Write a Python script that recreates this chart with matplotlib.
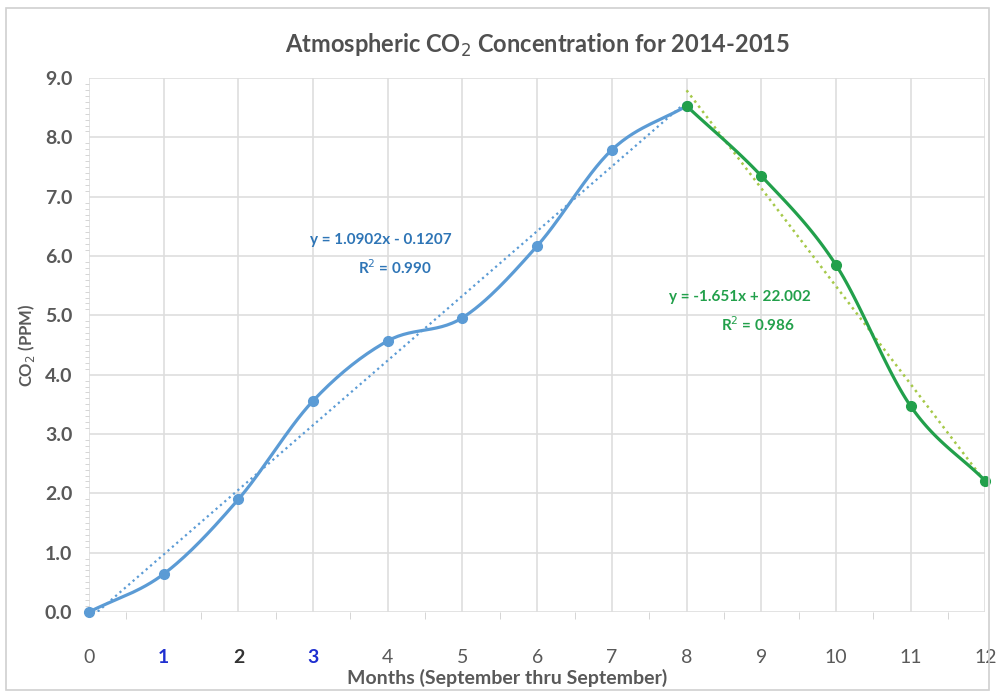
import matplotlib.pyplot as plt
import numpy as np
from matplotlib.patches import Rectangle
from matplotlib.ticker import MultipleLocator

plt.rcParams.update({
    "font.family": ["Lato", "DejaVu Sans"],
    "figure.facecolor": "white",
})

# data
months_rise = [0, 1, 2, 3, 4, 5, 6, 7, 8]
co2_rise = [0.0, 0.64, 1.90, 3.56, 4.57, 4.96, 6.17, 7.79, 8.53]
months_fall = [8, 9, 10, 11, 12]
co2_fall = [8.53, 7.35, 5.85, 3.47, 2.21]
month_ticks = list(range(13))
co2_ticks = [0, 1, 2, 3, 4, 5, 6, 7, 8, 9]

# trendlines as printed on the chart
fit_rise = (1.0902, -0.1207)
fit_fall = (-1.651, 22.002)

BLUE = "#5b9bd5"
GREEN = "#22a04b"
TREND_GREEN = "#a6c94a"
GRID = "#dedede"
TICK_GREY = "#595959"


def smooth(x, y, n=30):
    # catmull-rom style smoothing, like excel's "smoothed line"
    x = np.asarray(x, float)
    y = np.asarray(y, float)
    px = np.concatenate([[2 * x[0] - x[1]], x, [2 * x[-1] - x[-2]]])
    py = np.concatenate([[2 * y[0] - y[1]], y, [2 * y[-1] - y[-2]]])
    t = np.linspace(0, 1, n)
    xs, ys = [], []
    for i in range(1, len(px) - 2):
        for p, out in ((px, xs), (py, ys)):
            p0, p1, p2, p3 = p[i - 1], p[i], p[i + 1], p[i + 2]
            out.append(0.5 * (2 * p1 + (-p0 + p2) * t
                              + (2 * p0 - 5 * p1 + 4 * p2 - p3) * t ** 2
                              + (-p0 + 3 * p1 - 3 * p2 + p3) * t ** 3))
    return np.concatenate(xs), np.concatenate(ys)


fig = plt.figure(figsize=(9.97, 6.97), dpi=100)
ax = fig.add_axes([0.0893, 0.122, 0.899, 0.766])

fig.patches.append(Rectangle((0.006, 0.01), 0.986, 0.979, transform=fig.transFigure,
                             fill=False, edgecolor="#d0d0d0", linewidth=1.2))

# trendlines
xr = np.array([months_rise[0], months_rise[-1]])
ax.plot(xr, fit_rise[0] * xr + fit_rise[1], color=BLUE, lw=1.6, ls=(0, (1, 1.6)), zorder=2)
xf = np.array([months_fall[0], months_fall[-1]])
ax.plot(xf, fit_fall[0] * xf + fit_fall[1], color=TREND_GREEN, lw=1.8, ls=(0, (1, 1.6)), zorder=2)

# smoothed series
sx, sy = smooth(months_rise, co2_rise)
ax.plot(sx, sy, color=BLUE, lw=2.3, zorder=3)
ax.plot(months_rise, co2_rise, "o", color=BLUE, ms=7, zorder=4, clip_on=False)
sx, sy = smooth(months_fall, co2_fall)
ax.plot(sx, sy, color=GREEN, lw=2.3, zorder=3)
ax.plot(months_fall, co2_fall, "o", color=GREEN, ms=7, zorder=4, clip_on=False)

# equation labels
eq_style = dict(fontsize=11, fontweight="bold", ha="center", va="center")
ax.text(3.9, 6.27, "y = 1.0902x - 0.1207", color="#2e75b6", **eq_style)
ax.text(4.1, 5.8, "R$^2$ = 0.990", color="#2e75b6", **eq_style)
ax.text(8.72, 5.31, "y = -1.651x + 22.002", color="#22a04b", **eq_style)
ax.text(8.95, 4.84, "R$^2$ = 0.986", color="#22a04b", **eq_style)

ax.set_xlim(0, 12)
ax.set_ylim(0, 9)
ax.set_xticks(month_ticks)
ax.set_xticklabels([str(m) for m in month_ticks])
ax.xaxis.set_minor_locator(MultipleLocator(0.5))
ax.set_yticks(co2_ticks)
ax.set_yticklabels([f"{v:.1f}" for v in co2_ticks])
ax.yaxis.set_minor_locator(MultipleLocator(0.1))
ax.grid(True, which="major", color=GRID, lw=1.2)
ax.set_axisbelow(True)
for s in ax.spines.values():
    s.set_visible(False)

ax.tick_params(axis="both", which="major", length=0, labelsize=14, labelcolor=TICK_GREY)
ax.tick_params(axis="x", which="major", pad=27)
ax.tick_params(axis="y", which="major", pad=12)
ax.tick_params(axis="y", which="minor", length=3, color="#cfcfcf", direction="out")
ax.tick_params(axis="x", which="minor", length=5, color="#cfcfcf", direction="out")
for lab in ax.get_yticklabels():
    lab.set_fontweight("bold")
xlabs = ax.get_xticklabels()
for i, c in ((1, "#1f2fd0"), (2, "#333333"), (3, "#1f2fd0")):
    xlabs[i].set_color(c)
    xlabs[i].set_fontweight("bold")

ax.set_xlabel("Months (September thru September)", fontsize=14, color=TICK_GREY,
              fontweight="bold")
ax.xaxis.set_label_coords(0.467, -0.106)
ax.set_ylabel("CO$_2$ (PPM)", fontsize=12, color=TICK_GREY, fontweight="bold", labelpad=6)
ax.set_title("Atmospheric CO$_2$ Concentration for 2014-2015", fontsize=17, color="#505050",
             fontweight="bold", pad=18)

fig.savefig("out.png", dpi=100)
